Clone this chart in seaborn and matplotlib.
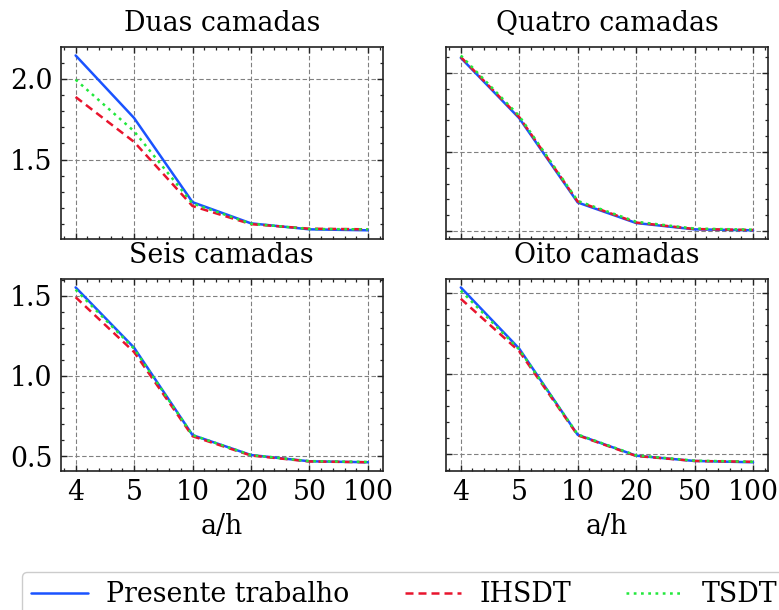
import matplotlib
matplotlib.use("Agg")
import matplotlib.pyplot as plt
import seaborn as sns
import numpy as np
import pandas as pd

# ---------------- data ----------------
x_labels = ["4", "5", "10", "20", "50", "100"]
titles = ["Duas camadas", "Quatro camadas", "Seis camadas", "Oito camadas"]
series_names = ["Presente trabalho", "IHSDT", "TSDT"]

duas_presente = [2.144, 1.757, 1.236, 1.105, 1.068, 1.062]
duas_ihsdt = [1.887, 1.609, 1.212, 1.100, 1.072, 1.068]
duas_tsdt = [1.994, 1.675, 1.228, 1.103, 1.070, 1.068]

quatro_presente = [2.095, 1.713, 1.180, 1.050, 1.010, 1.004]
quatro_ihsdt = [2.100, 1.720, 1.186, 1.053, 1.012, 1.006]
quatro_tsdt = [2.110, 1.727, 1.190, 1.058, 1.015, 1.008]

seis_presente = [1.551, 1.176, 0.632, 0.508, 0.469, 0.463]
seis_ihsdt = [1.490, 1.149, 0.625, 0.505, 0.468, 0.463]
seis_tsdt = [1.537, 1.170, 0.632, 0.508, 0.470, 0.465]

oito_presente = [1.537, 1.155, 0.618, 0.488, 0.455, 0.447]
oito_ihsdt = [1.466, 1.139, 0.615, 0.486, 0.455, 0.450]
oito_tsdt = [1.517, 1.150, 0.620, 0.490, 0.457, 0.450]

panels = [
    (duas_presente, duas_ihsdt, duas_tsdt),
    (quatro_presente, quatro_ihsdt, quatro_tsdt),
    (seis_presente, seis_ihsdt, seis_tsdt),
    (oito_presente, oito_ihsdt, oito_tsdt),
]

colors = ["#1a53ff", "#e8142d", "#22e83c"]
styles = ["-", (0, (3.2, 2.0)), (0, (1.1, 1.8))]

# ---------------- style ----------------
FS = 19.3
sns.set_style("ticks")
plt.rcParams["font.family"] = ["DejaVu Serif"]
plt.rcParams.update({
    "font.size": FS,
    "text.color": "black",
    "axes.labelcolor": "black",
    "axes.titlecolor": "black",
    "mathtext.fontset": "dejavuserif",
    "xtick.direction": "in",
    "ytick.direction": "in",
    "xtick.top": True,
    "ytick.right": True,
    "xtick.major.size": 4.5,
    "ytick.major.size": 4.5,
    "xtick.minor.size": 2.5,
    "ytick.minor.size": 2.5,
    "xtick.major.width": 1.0,
    "ytick.major.width": 1.0,
    "xtick.minor.width": 0.9,
    "ytick.minor.width": 0.9,
    "axes.linewidth": 1.2,
    "axes.edgecolor": "#222222",
    "xtick.color": "#222222",
    "ytick.color": "#222222",
    "xtick.labelcolor": "black",
    "ytick.labelcolor": "black",
})

fig, axes = plt.subplots(2, 2, figsize=(7.79, 6.10), dpi=100, sharex=True)
fig.subplots_adjust(left=61 / 779, right=767.7 / 779, top=1 - 46.7 / 610,
                    bottom=1 - 471 / 610, wspace=0.198, hspace=0.206)

xpos = np.arange(len(x_labels))

for i, ax in enumerate(axes.flat):
    data = panels[i]
    for j, name in enumerate(series_names):
        df = pd.DataFrame({"x": xpos, "y": data[j]})
        sns.lineplot(data=df, x="x", y="y", ax=ax, color=colors[j],
                     linestyle=styles[j], linewidth=1.8, label=name,
                     legend=False)
    ax.set_title(titles[i], fontsize=FS, pad=11)
    ax.set_xticks(xpos)
    ax.set_xticklabels(x_labels)
    ax.set_xlabel("")
    ax.set_ylabel("")
    ax.minorticks_on()
    ax.tick_params(axis="both", which="major", labelsize=FS, pad=6)
    ax.grid(True, which="major", color="#808080", linestyle=(0, (4, 2.2)),
            linewidth=0.8)
    ax.set_axisbelow(True)
    for sp in ax.spines.values():
        sp.set_visible(True)

for ax in axes[:, 1]:
    ax.tick_params(axis="y", labelleft=False)
for ax in axes[1, :]:
    ax.set_xlabel("a/h", fontsize=FS, labelpad=5)
for ax in axes[0, :]:
    ax.tick_params(axis="x", labelbottom=False)

handles, labels = axes[0, 0].get_legend_handles_labels()
fig.legend(handles, labels, loc="upper left",
           bbox_to_anchor=(22 / 779, 1 - 572 / 610), ncol=3, fontsize=FS,
           frameon=True, fancybox=True, edgecolor="#cccccc", framealpha=1.0,
           borderaxespad=0.0, borderpad=0.35, handlelength=2.1,
           handletextpad=0.7, columnspacing=2.05)

fig.savefig("out.png", dpi=100)
